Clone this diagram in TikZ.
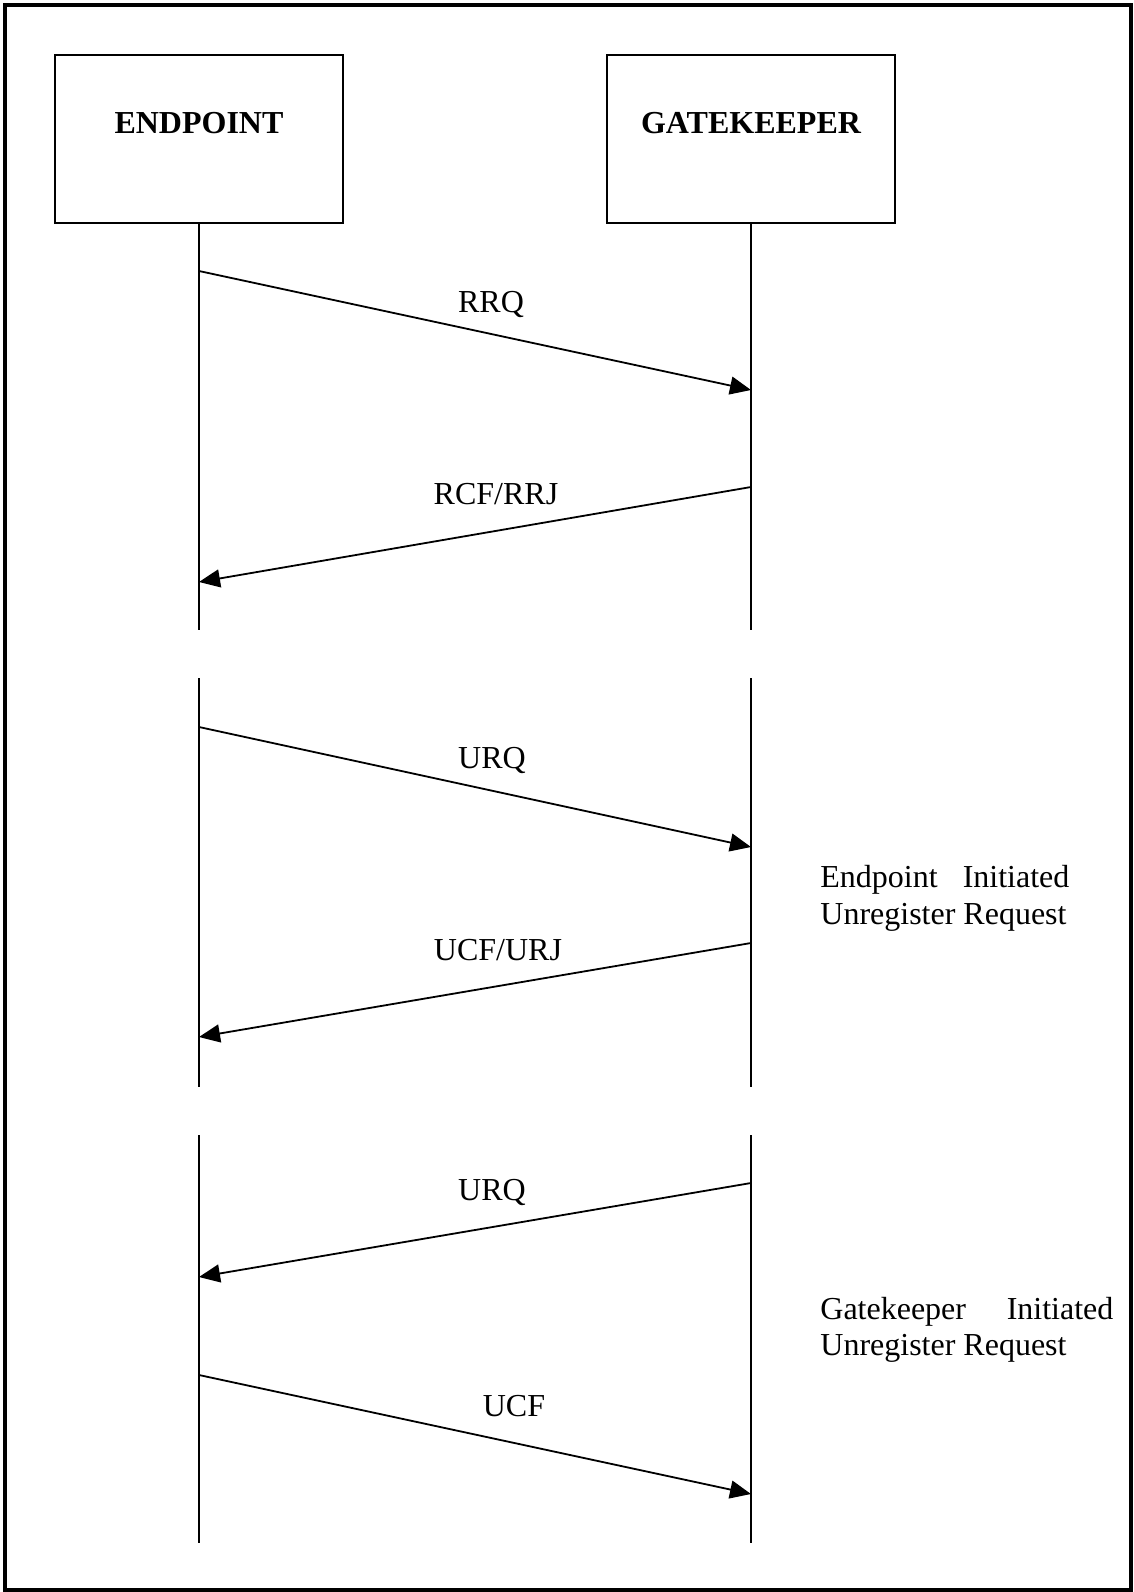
\documentclass[tikz,border=0pt]{standalone}
\usepackage{fontspec}
\setmainfont{Liberation Serif}
\usetikzlibrary{arrows.meta}
\begin{document}
% one unit = one pixel at 0.5pt, y grows downwards
\begin{tikzpicture}[x=0.5pt,y=-0.5pt,
  every node/.style={font=\fontsize{16}{18.5}\selectfont, inner sep=0pt},
  actor/.style={draw, line width=1pt, minimum width=144pt, minimum height=84pt,
    font=\fontsize{16}{18.5}\selectfont\bfseries, text height=12pt, text depth=18pt},
  lifeline/.style={line width=0.9pt},
  msg/.style={line width=0.9pt, -{Triangle[length=10.5pt,width=9pt]}},
  lbl/.style={anchor=base},
  note/.style={anchor=base west}]
\useasboundingbox (0,0) rectangle (1134,1592);
\draw[line width=1.8pt] (5,5) rectangle (1131,1590);

% participants
\node[actor] (ep) at (199,139) {ENDPOINT};
\node[actor] (gk) at (751,139) {GATEKEEPER};

% lifeline segments
\coordinate (epA) at (199,630);
\coordinate (gkA) at (751,630);
\coordinate (epBs) at (199,678);
\coordinate (epBe) at (199,1087);
\coordinate (gkBs) at (751,678);
\coordinate (gkBe) at (751,1087);
\coordinate (epCs) at (199,1135);
\coordinate (epCe) at (199,1543);
\coordinate (gkCs) at (751,1135);
\coordinate (gkCe) at (751,1543);
\draw[lifeline] (ep.south) -- (epA);
\draw[lifeline] (gk.south) -- (gkA);
\draw[lifeline] (epBs) -- (epBe);
\draw[lifeline] (gkBs) -- (gkBe);
\draw[lifeline] (epCs) -- (epCe);
\draw[lifeline] (gkCs) -- (gkCe);

% message end points
\coordinate (m1s) at (199,271);
\coordinate (m1e) at (751,390);
\coordinate (m2s) at (751,487);
\coordinate (m2e) at (199,582);
\coordinate (m3s) at (199,727);
\coordinate (m3e) at (751,847);
\coordinate (m4s) at (751,943);
\coordinate (m4e) at (199,1037);
\coordinate (m5s) at (751,1183);
\coordinate (m5e) at (199,1277);
\coordinate (m6s) at (199,1375);
\coordinate (m6e) at (751,1494);

% registration
\draw[msg] (m1s) -- (m1e);
\node[lbl] (l1) at (491,312) {RRQ};
\draw[msg] (m2s) -- (m2e);
\node[lbl] (l2) at (496,504) {RCF/RRJ};

% endpoint initiated unregistration
\draw[msg] (m3s) -- (m3e);
\node[lbl] (l3) at (492,768) {URQ};
\draw[msg] (m4s) -- (m4e);
\node[lbl] (l4) at (498,960) {UCF/URJ};
\node[note] (n1a) at (820,887) {\makebox[124.5pt][s]{Endpoint Initiated}};
\node[note] (n1b) at (820,924) {Unregister Request};

% gatekeeper initiated unregistration
\draw[msg] (m5s) -- (m5e);
\node[lbl] (l5) at (492,1200) {URQ};
\draw[msg] (m6s) -- (m6e);
\node[lbl] (l6) at (514,1416) {UCF};
\node[note] (n2a) at (820,1319) {\makebox[146.5pt][s]{Gatekeeper Initiated}};
\node[note] (n2b) at (820,1355) {Unregister Request};
\end{tikzpicture}
\end{document}
